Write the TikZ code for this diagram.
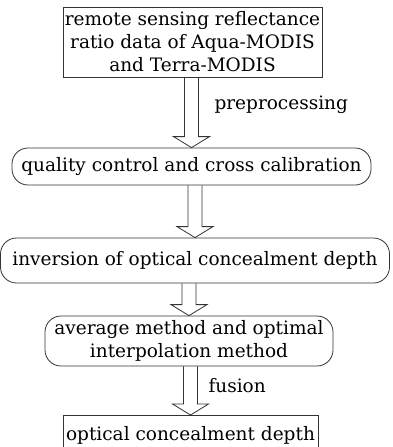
\documentclass[tikz,border=0pt]{standalone}
\usepackage{fontspec}
\setmainfont{DejaVu Serif}
\usetikzlibrary{calc}
\colorlet{edge}{black!80}
\tikzset{
  every step box/.style={draw=edge, line width=0.8pt, align=center, inner sep=0pt,
    font=\fontsize{18.5}{23}\selectfont},
  stepbox/.style={every step box},
  roundstep/.style={every step box, rounded corners=16pt},
  hollow arrow/.style={draw=edge, line width=0.8pt, line join=miter}
}
% hollow block arrow from the bottom of #1 to the top of #2
\newcommand\flowarrow[2]{%
  \draw[hollow arrow] ($(#1.south -| #2.north)+(-7,0)$) -- ($(#2.north)+(-7,-11)$) -- ++(-11,0)
    -- (#2.north) -- ++(18,-11) -- ++(-11,0) -- ($(#1.south -| #2.north)+(7,0)$);
}

\begin{document}
\begin{tikzpicture}[x=1pt, y=-1pt]
\useasboundingbox (0,0) rectangle (392,447);

\node[stepbox, minimum width=259, minimum height=70] (data) at (192.5,42)
  {remote sensing reflectance\\ratio data of Aqua-MODIS\\and Terra-MODIS};
\node[roundstep, minimum width=359, minimum height=37] (calib) at (191.5,166.5)
  {quality control and cross calibration};
\node[roundstep, minimum width=389, minimum height=45] (inversion) at (195,260.5)
  {inversion of optical concealment depth};
\node[roundstep, minimum width=288, minimum height=50] (merge) at (189,341)
  {average method and optimal\\interpolation method};
\node[stepbox, minimum width=255, minimum height=40, anchor=north] (result) at (190.5,415)
  {optical concealment depth};

\flowarrow{data}{calib}
\flowarrow{calib}{inversion}
\flowarrow{inversion}{merge}
\flowarrow{merge}{result}

\node[anchor=west, font=\fontsize{18.5}{23}\selectfont] (pre) at (211,105) {preprocessing};
\node[anchor=west, font=\fontsize{18.5}{23}\selectfont] (fusion) at (205,386) {fusion};
\end{tikzpicture}
\end{document}
